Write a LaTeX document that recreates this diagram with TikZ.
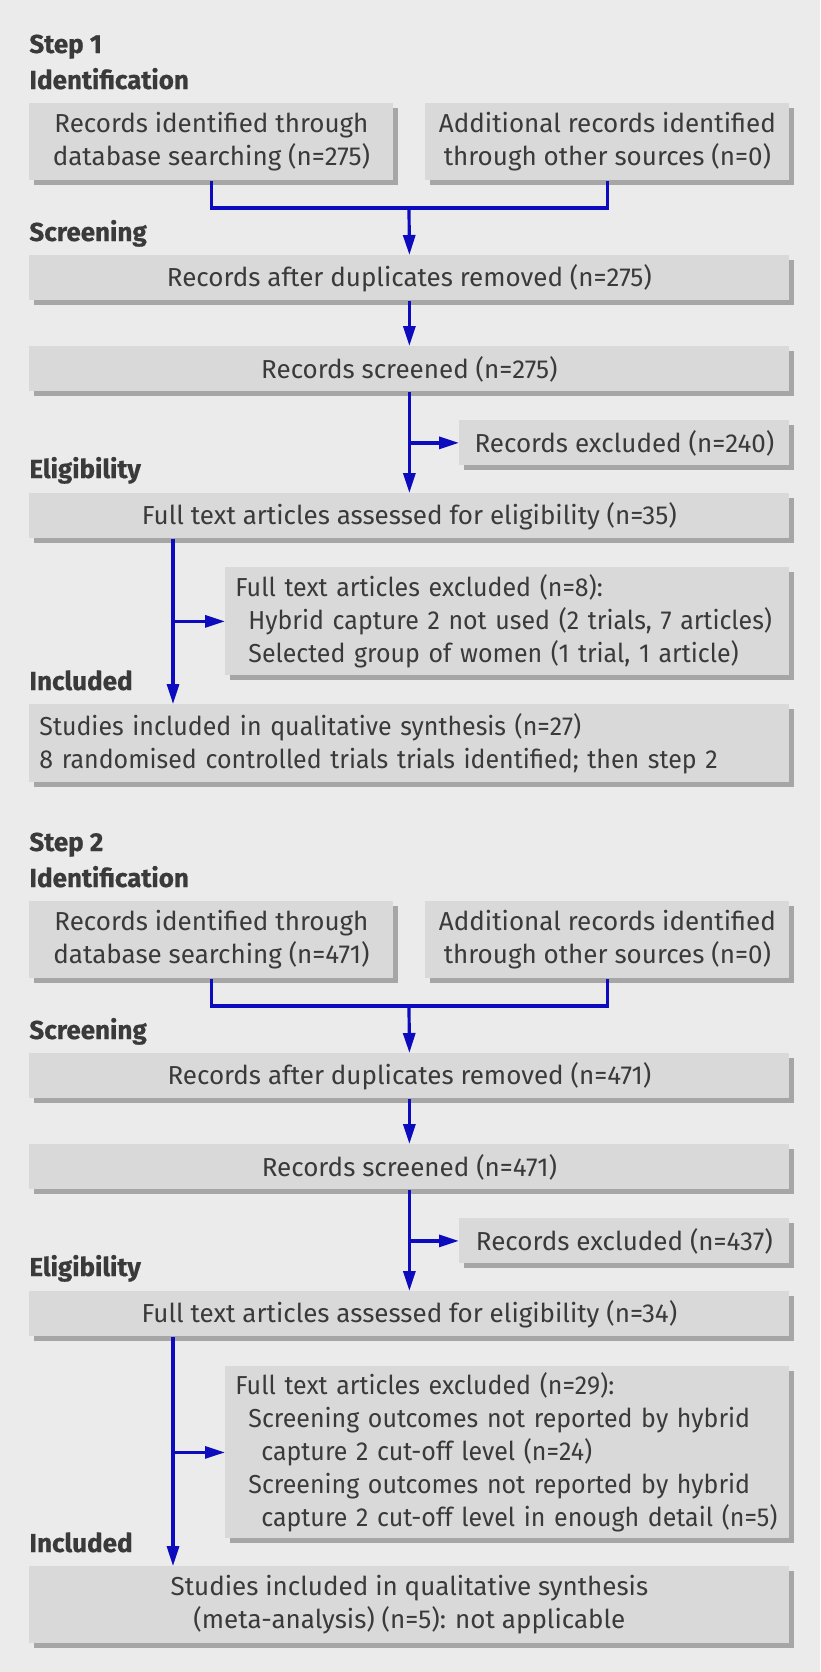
\documentclass[tikz,border=0pt]{standalone}
\usepackage{fontspec}
\setmainfont{Fira Sans}[Numbers=Proportional, BoldFeatures={FakeBold=0.6}]
\usetikzlibrary{arrows.meta,shadows}
\definecolor{bggrey}{RGB}{235,235,235}
\definecolor{boxgrey}{RGB}{217,217,217}
\definecolor{shadegrey}{RGB}{166,166,166}
\definecolor{inkgrey}{RGB}{58,58,58}
\definecolor{flowblue}{RGB}{12,12,190}

\begin{document}
\begin{tikzpicture}[x=0.5pt, y=-0.5pt,
    box/.style={fill=boxgrey, text=inkgrey, inner sep=0pt, anchor=north west,
      align=center, font=\fontsize{13}{16.5}\selectfont,
      drop shadow={shadow xshift=2.5pt, shadow yshift=-2.5pt, fill=shadegrey, opacity=1}},
    listbox/.style={box, align=left, inner xsep=5pt,
      font=\fontsize{13}{16.5}\selectfont\addfontfeature{FakeStretch=0.96}},
    phase/.style={anchor=base west, inner sep=0pt, text=inkgrey,
      font=\fontsize{13}{16}\selectfont\bfseries},
    flowline/.style={draw=flowblue, line width=1.6pt},
    flowarrow/.style={flowline, -{Triangle[length=10pt,width=6pt]}}]
    % page and background
    \useasboundingbox (0,0) rectangle (820,1672);
    \fill[bggrey] (0,0) rectangle (820,1672);

    % ---- step 1 ----
    \node[phase] (step1) at (29,53) {Step 1};
    \node[phase] (idlab1) at (29,89) {Identification};
    \node[phase] (sclab1) at (29,241) {Screening};
    \node[phase] (ellab1) at (29,478) {Eligibility};
    \node[phase] (inlab1) at (29,690) {Included};

    \node[box, minimum width=182pt, minimum height=38.5pt] (ident1) at (29,103)
      {Records identified through\\database searching (n=275)};
    \node[box, minimum width=182pt, minimum height=38.5pt] (other1) at (425,103)
      {Additional records identified\\through other sources (n=0)};
    \node[box, minimum width=380pt, minimum height=22.5pt] (dedup1) at (29,255)
      {Records after duplicates removed (n=275)};
    \node[box, minimum width=380pt, minimum height=22.5pt] (screen1) at (29,346)
      {Records screened (n=275)};
    \node[box, minimum width=165pt, minimum height=22.5pt] (excl1) at (459,420)
      {Records excluded (n=240)};
    \node[box, minimum width=380pt, minimum height=22.5pt] (full1) at (29,493)
      {Full text articles assessed for eligibility (n=35)};
    \node[listbox, text width=272pt, minimum height=54pt] (ftexcl1) at (225,567)
      {Full text articles excluded (n=8):\\
       \hspace*{6.5pt}\mbox{Hybrid capture 2 not used (2 trials, 7 articles)}\\
       \hspace*{6.5pt}\mbox{Selected group of women (1 trial, 1 article)}};
    \node[listbox, text width=370pt, minimum height=39pt] (incl1) at (29,704)
      {Studies included in qualitative synthesis (n=27)\\
       \mbox{8 randomised controlled trials trials identified; then step 2}};

    % connectors step 1
    \coordinate (join1) at (409,208);
    \draw[flowline] (ident1.south) |- (join1) -| (other1.south);
    \draw[flowarrow] (join1) -- (dedup1.north);
    \draw[flowarrow] (dedup1) -- (screen1);
    \draw[flowarrow] (screen1) -- (full1);
    \draw[flowarrow] (screen1.south |- excl1.west) -- (excl1.west);
    \draw[flowarrow] ([xshift=72pt]full1.south west) -- ([xshift=72pt]incl1.north west);
    \draw[flowarrow] ([xshift=72pt]full1.south west |- ftexcl1.west) -- (ftexcl1.west);

    % ---- step 2 ----
    \node[phase] (step2) at (29,851) {Step 2};
    \node[phase] (idlab2) at (29,887) {Identification};
    \node[phase] (sclab2) at (29,1039) {Screening};
    \node[phase] (ellab2) at (29,1276) {Eligibility};
    \node[phase] (inlab2) at (29,1552) {Included};

    \node[box, minimum width=182pt, minimum height=38.5pt] (ident2) at (29,901)
      {Records identified through\\database searching (n=471)};
    \node[box, minimum width=182pt, minimum height=38.5pt] (other2) at (425,901)
      {Additional records identified\\through other sources (n=0)};
    \node[box, minimum width=380pt, minimum height=22.5pt] (dedup2) at (29,1053)
      {Records after duplicates removed (n=471)};
    \node[box, minimum width=380pt, minimum height=22.5pt] (screen2) at (29,1144)
      {Records screened (n=471)};
    \node[box, minimum width=165pt, minimum height=22.5pt] (excl2) at (459,1218)
      {Records excluded (n=437)};
    \node[box, minimum width=380pt, minimum height=22.5pt] (full2) at (29,1291)
      {Full text articles assessed for eligibility (n=34)};
    \node[listbox, text width=272pt, minimum height=86pt] (ftexcl2) at (225,1366)
      {Full text articles excluded (n=29):\\
       \hspace*{6.5pt}\mbox{Screening outcomes not reported by hybrid}\\
       \hspace*{13pt}\mbox{capture 2 cut-off level (n=24)}\\
       \hspace*{6.5pt}\mbox{Screening outcomes not reported by hybrid}\\
       \hspace*{13pt}\mbox{capture 2 cut-off level in enough detail (n=5)}};
    \node[box, minimum width=380pt, minimum height=38.5pt] (incl2) at (29,1566)
      {Studies included in qualitative synthesis\\(meta-analysis) (n=5): not applicable};

    % connectors step 2
    \coordinate (join2) at (409,1006);
    \draw[flowline] (ident2.south) |- (join2) -| (other2.south);
    \draw[flowarrow] (join2) -- (dedup2.north);
    \draw[flowarrow] (dedup2) -- (screen2);
    \draw[flowarrow] (screen2) -- (full2);
    \draw[flowarrow] (screen2.south |- excl2.west) -- (excl2.west);
    \draw[flowarrow] ([xshift=72pt]full2.south west) -- ([xshift=72pt]incl2.north west);
    \draw[flowarrow] ([xshift=72pt]full2.south west |- ftexcl2.west) -- (ftexcl2.west);
\end{tikzpicture}
\end{document}
